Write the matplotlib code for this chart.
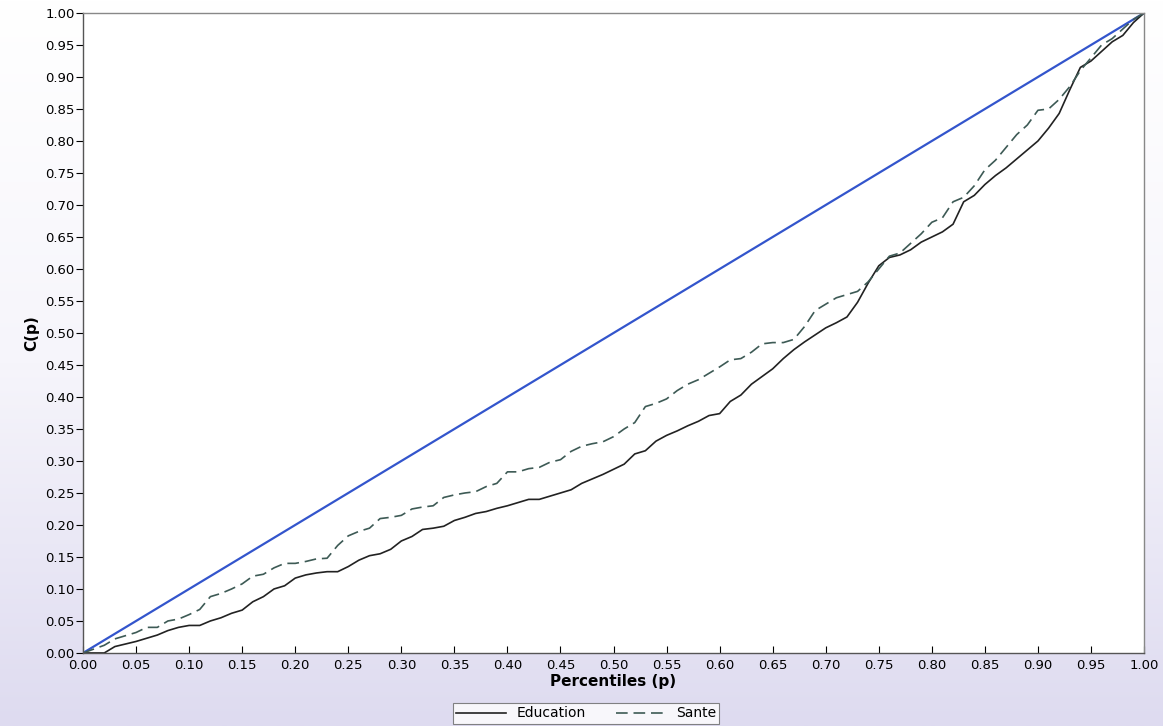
import numpy as np
import matplotlib
matplotlib.use("Agg")
import matplotlib.pyplot as plt
from matplotlib.colors import LinearSegmentedColormap

p = [0.00, 0.01, 0.02, 0.03, 0.04, 0.05, 0.06, 0.07, 0.08, 0.09,
     0.10, 0.11, 0.12, 0.13, 0.14, 0.15, 0.16, 0.17, 0.18, 0.19,
     0.20, 0.21, 0.22, 0.23, 0.24, 0.25, 0.26, 0.27, 0.28, 0.29,
     0.30, 0.31, 0.32, 0.33, 0.34, 0.35, 0.36, 0.37, 0.38, 0.39,
     0.40, 0.41, 0.42, 0.43, 0.44, 0.45, 0.46, 0.47, 0.48, 0.49,
     0.50, 0.51, 0.52, 0.53, 0.54, 0.55, 0.56, 0.57, 0.58, 0.59,
     0.60, 0.61, 0.62, 0.63, 0.64, 0.65, 0.66, 0.67, 0.68, 0.69,
     0.70, 0.71, 0.72, 0.73, 0.74, 0.75, 0.76, 0.77, 0.78, 0.79,
     0.80, 0.81, 0.82, 0.83, 0.84, 0.85, 0.86, 0.87, 0.88, 0.89,
     0.90, 0.91, 0.92, 0.93, 0.94, 0.95, 0.96, 0.97, 0.98, 0.99, 1.00]

education = [0.000, 0.000, 0.000, 0.010, 0.014, 0.018, 0.023, 0.028, 0.035, 0.040,
             0.043, 0.043, 0.050, 0.055, 0.062, 0.067, 0.080, 0.088, 0.100, 0.105,
             0.117, 0.122, 0.125, 0.127, 0.127, 0.135, 0.145, 0.152, 0.155, 0.162,
             0.175, 0.182, 0.193, 0.195, 0.198, 0.207, 0.212, 0.218, 0.221, 0.226,
             0.230, 0.235, 0.240, 0.240, 0.245, 0.250, 0.255, 0.265, 0.272, 0.279,
             0.287, 0.295, 0.311, 0.316, 0.331, 0.340, 0.347, 0.355, 0.362, 0.371,
             0.374, 0.393, 0.403, 0.420, 0.432, 0.444, 0.460, 0.474, 0.486, 0.497,
             0.508, 0.516, 0.525, 0.548, 0.578, 0.605, 0.618, 0.622, 0.630, 0.642,
             0.650, 0.658, 0.670, 0.705, 0.715, 0.732, 0.746, 0.758, 0.772, 0.786,
             0.800, 0.820, 0.843, 0.880, 0.915, 0.925, 0.940, 0.955, 0.965, 0.985, 1.000]

sante = [0.000, 0.006, 0.012, 0.022, 0.027, 0.032, 0.040, 0.040, 0.050, 0.053,
         0.060, 0.068, 0.088, 0.093, 0.100, 0.108, 0.120, 0.123, 0.133, 0.140,
         0.140, 0.143, 0.147, 0.148, 0.168, 0.183, 0.190, 0.195, 0.210, 0.212,
         0.215, 0.225, 0.228, 0.230, 0.243, 0.247, 0.250, 0.252, 0.260, 0.265,
         0.283, 0.283, 0.288, 0.290, 0.298, 0.302, 0.315, 0.323, 0.327, 0.330,
         0.338, 0.350, 0.360, 0.385, 0.390, 0.397, 0.410, 0.420, 0.427, 0.437,
         0.447, 0.458, 0.460, 0.470, 0.483, 0.485, 0.485, 0.490, 0.510, 0.535,
         0.545, 0.555, 0.560, 0.565, 0.580, 0.600, 0.620, 0.625, 0.640, 0.655,
         0.673, 0.680, 0.705, 0.712, 0.730, 0.755, 0.770, 0.790, 0.810, 0.825,
         0.848, 0.850, 0.865, 0.885, 0.910, 0.930, 0.950, 0.960, 0.975, 0.990, 1.000]

equality = [0.0, 1.0]
ticks = [round(0.05 * i, 2) for i in range(21)]
tick_labels = [f"{t:.2f}" for t in ticks]

plt.rcParams['font.family'] = ['DejaVu Sans']

fig = plt.figure(figsize=(11.63, 7.26), dpi=100)

# background gradient
bg = fig.add_axes([0, 0, 1, 1], zorder=-10)
cmap = LinearSegmentedColormap.from_list("bg", ["#ffffff", "#f6f5fb", "#dedbf0"])
grad = np.linspace(0, 1, 256).reshape(-1, 1)
bg.imshow(grad, aspect='auto', cmap=cmap, extent=[0, 1, 0, 1], origin='upper')
bg.axis('off')

ax = fig.add_axes([0.0714, 0.1006, 0.9123, 0.8815])
ax.set_facecolor('white')

ax.plot(equality, equality, color='#3355cc', lw=1.6)
l1, = ax.plot(p, education, color='#222222', lw=1.2, label='Education')
l2, = ax.plot(p, sante, color='#3d5a55', lw=1.2, ls=(0, (7, 3.5)), label='Sante')

ax.set_xlim(0, 1)
ax.set_ylim(0, 1)
ax.set_xticks(ticks)
ax.set_xticklabels(tick_labels)
ax.set_yticks(ticks)
ax.set_yticklabels(tick_labels)
ax.tick_params(axis='y', direction='out', length=5, labelsize=9.5, pad=1)
ax.tick_params(axis='x', direction='in', length=5, labelsize=9.5, pad=4)
for s in ax.spines.values():
    s.set_color('#888888')
    s.set_linewidth(1.0)
ax.spines['left'].set_color('#555555')
ax.spines['bottom'].set_color('#555555')

ax.set_xlabel('Percentiles (p)', fontsize=11, fontweight='bold', labelpad=2)
ax.set_ylabel('C(p)', fontsize=11, fontweight='bold', labelpad=4)

leg = fig.legend(handles=[l1, l2], loc='upper center', bbox_to_anchor=(0.504, 1 - 703 / 726),
                 ncol=2, fontsize=10, frameon=True, fancybox=False,
                 edgecolor='#666666', handlelength=3.6, columnspacing=2.2,
                 borderpad=0.25, handletextpad=0.7, borderaxespad=0)
leg.get_frame().set_linewidth(0.8)

fig.savefig('out.png', dpi=100)
